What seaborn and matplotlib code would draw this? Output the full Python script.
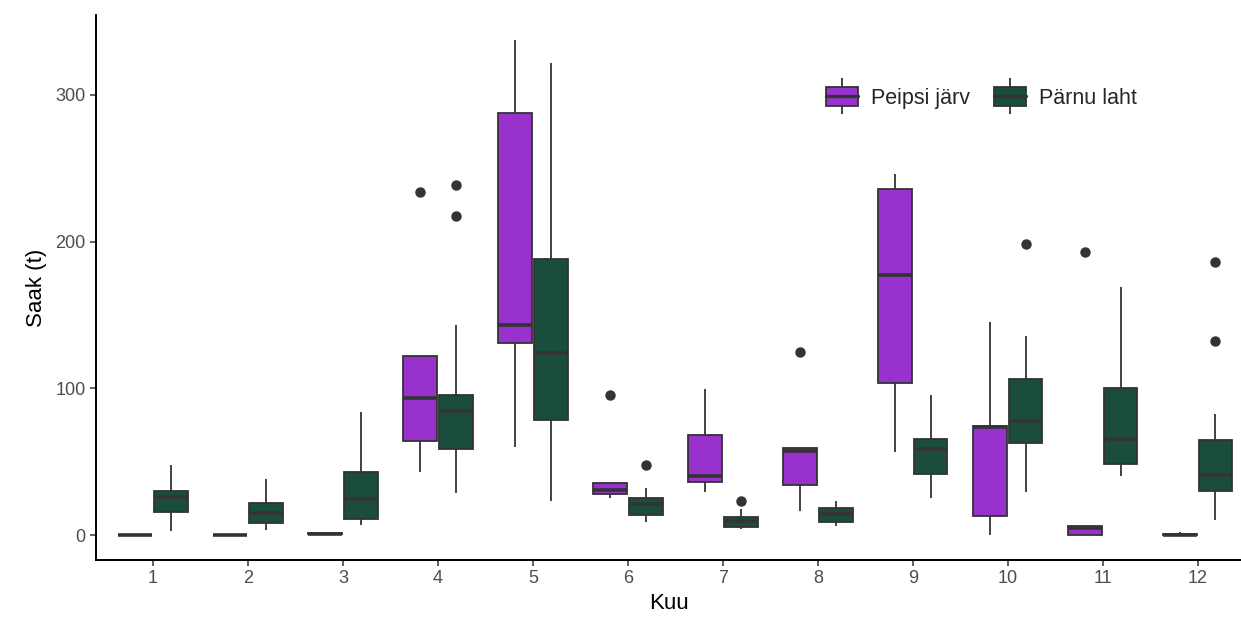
import matplotlib
matplotlib.use("Agg")
import matplotlib.pyplot as plt
from matplotlib.patches import Patch
from matplotlib.lines import Line2D
from matplotlib.legend_handler import HandlerTuple
import numpy as np
import pandas as pd
import seaborn as sns

# Monthly catch (t) per fishing area: box summaries and outlying years
months = [1, 2, 3, 4, 5, 6, 7, 8, 9, 10, 11, 12]
areas = ["Peipsi järv", "Pärnu laht"]
colors = ["#9932CC", "#1B4D3E"]

# Peipsi järv
peipsi_low = [0, 0, 0.2, 43, 60.3, 25.2, 29.5, 16.6, 56.7, 0, 0, 0]
peipsi_q1 = [0, 0, 0.5, 64.2, 130.6, 27.9, 36.5, 34.0, 103.4, 13.2, 0, 0]
peipsi_med = [0, 0, 1.0, 93.7, 143.5, 30.5, 40.4, 57.4, 177.3, 73.4, 5.0, 0.3]
peipsi_q3 = [0, 0, 1.3, 122.4, 287.5, 35.8, 68.5, 59.2, 235.8, 74.4, 6.3, 1.0]
peipsi_high = [0, 0, 1.5, 122.4, 337.4, 35.8, 99.8, 59.2, 246.3, 145.4, 6.3, 2.3]
peipsi_out = [[], [], [], [234], [], [95.2], [], [124.7], [], [], [193], []]

# Pärnu laht
parnu_low = [3, 3.6, 7, 29, 23.3, 9, 4, 6.3, 25.6, 29.7, 40.4, 10.2]
parnu_q1 = [16.1, 8.2, 11.3, 58.5, 78.5, 13.6, 5.6, 9.1, 42.0, 62.6, 48.3, 30.2]
parnu_med = [26, 15.4, 24.5, 84.6, 124.3, 21, 9.8, 14.3, 58.5, 77.8, 65.3, 40.8]
parnu_q3 = [30.1, 21.8, 43, 95.2, 188.2, 25.6, 12.6, 18.4, 65.3, 106.1, 100.4, 64.6]
parnu_high = [48, 38, 84, 143, 321.5, 32.4, 17.7, 23.1, 95.7, 135.6, 169, 82.8]
parnu_out = [[], [], [], [217.2, 238.8], [], [47.6], [23.5], [], [], [198.4], [], [132.2, 186.2]]


def box_values(lo, q1, med, q3, hi, extra):
    # values whose quartiles, whisker ends and outliers give this box
    return [lo] + [q1] * 10 + [med] * 10 + [q3] * 10 + [hi] + list(extra)


rows = []
for area, lows, q1s, meds, q3s, highs, outs in [
    (areas[0], peipsi_low, peipsi_q1, peipsi_med, peipsi_q3, peipsi_high, peipsi_out),
    (areas[1], parnu_low, parnu_q1, parnu_med, parnu_q3, parnu_high, parnu_out),
]:
    for i, m in enumerate(months):
        for v in box_values(lows[i], q1s[i], meds[i], q3s[i], highs[i], outs[i]):
            rows.append({"Kuu": str(m), "Saak": v, "Koht": area})
df = pd.DataFrame(rows)

sns.set_theme(style="ticks")
plt.rcParams["font.family"] = ["Liberation Sans", "DejaVu Sans"]

W, H = 1241, 618
fig = plt.figure(figsize=(W / 100, H / 100), dpi=100)
ax = fig.add_axes([96 / W, (H - 560) / H, (W - 96) / W, (560 - 15) / H])

edge = "#333333"
sns.boxplot(
    data=df, x="Kuu", y="Saak", hue="Koht",
    order=[str(m) for m in months], hue_order=areas,
    palette=colors, saturation=1, width=0.75, gap=0.05,
    linecolor=edge, linewidth=1.3, fliersize=6.5, showcaps=False,
    flierprops=dict(marker="o", markerfacecolor=edge, markeredgecolor=edge),
    medianprops=dict(linewidth=2.6, color=edge),
    legend=False, ax=ax,
)

ax.set_xlim(-0.6, 11.456)
ax.set_ylim(-16.87, 354.3)
ax.set_yticks([0, 100, 200, 300])
sns.despine(ax=ax)
for side in ["left", "bottom"]:
    ax.spines[side].set_linewidth(1.4)
    ax.spines[side].set_color("black")
ax.tick_params(axis="both", length=4, width=1.1, color="#333333",
               labelsize=13, labelcolor="#4D4D4D", pad=3.5)
ax.set_xlabel("Kuu", fontsize=16, color="black", labelpad=4)
ax.set_ylabel("Saak (t)", fontsize=16, color="black", labelpad=6)

handles = []
for c in colors:
    whisker = Line2D([], [], linestyle="none", marker="|", markersize=26,
                     markeredgewidth=1.3, color=edge)
    box = Patch(facecolor=c, edgecolor=edge, linewidth=1.3)
    median = Line2D([], [], color=edge, linewidth=2.4)
    handles.append((whisker, box, median))

fig.legend(
    handles, areas, handler_map={tuple: HandlerTuple(ndivide=1, pad=0)},
    loc="center left", bbox_to_anchor=(826 / W, 1 - 98 / H),
    ncol=2, frameon=False, fontsize=15.5, borderpad=0, borderaxespad=0,
    handlelength=1.5, handleheight=1.0, handletextpad=0.6, columnspacing=1.1,
)

fig.savefig("out.png", dpi=100)
